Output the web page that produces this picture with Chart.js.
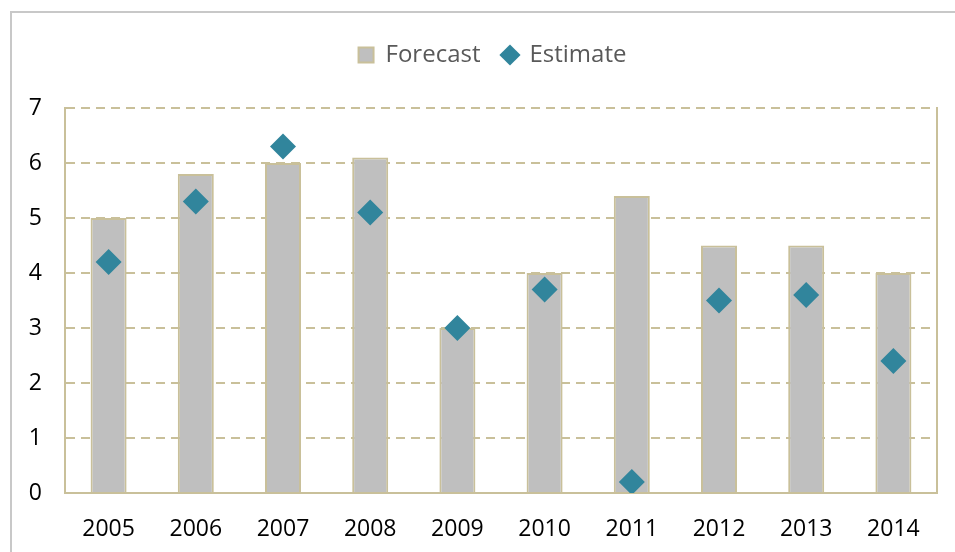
<!DOCTYPE html>
<html>
<head>
<meta charset="utf-8">
<script src="https://cdn.jsdelivr.net/npm/chart.js@4/dist/chart.umd.min.js"></script>
<style>
  html, body { margin: 0; padding: 0; background: #fff; }
  #wrap { position: relative; width: 955px; height: 552px; }
  #frame { position: absolute; left: 10px; top: 11px; right: -5px; bottom: -5px;
           border-left: 2px solid #c8c8c8; border-top: 2px solid #c8c8c8; pointer-events: none; }
</style>
</head>
<body>
<div id="wrap">
  <canvas id="chart" width="955" height="552"></canvas>
  <div id="frame"></div>
</div>
<script>
// chart values
var years = ['2005', '2006', '2007', '2008', '2009', '2010', '2011', '2012', '2013', '2014'];
var forecast = [5.0, 5.8, 6.0, 6.1, 3.0, 4.0, 5.4, 4.5, 4.5, 4.0];
var estimate = [4.2, 5.3, 6.3, 5.1, 3.0, 3.7, 0.2, 3.5, 3.6, 2.4];
var yTicks = [0, 1, 2, 3, 4, 5, 6, 7];

var tan = '#c9c09a';
var teal = '#31859c';
var grey = '#bfbfbf';
var font = "'Open Sans', 'Noto Sans', sans-serif";

// extra room under the legend, and nudge it over the plot area
var legendGap = {
    id: 'legendGap',
    beforeInit: function (chart) {
        var fit = chart.legend.fit;
        chart.legend.fit = function () {
            fit.call(this);
            this.height += 31;
        };
    },
    afterLayout: function (chart) {
        chart.legend.left += 18;
        chart.legend.right += 18;
    }
};

var ctx = document.getElementById('chart');
var myChart = new Chart(ctx, {
    type: 'bar',
    data: {
        labels: years,
        datasets: [
            {
                label: 'Forecast',
                data: forecast,
                backgroundColor: grey,
                borderColor: tan,
                borderWidth: 2,
                pointStyle: 'rect',
                barPercentage: 0.413,
                categoryPercentage: 1.0,
                order: 2
            },
            {
                type: 'line',
                label: 'Estimate',
                data: estimate,
                showLine: false,
                pointStyle: 'rectRot',
                pointRadius: 13,
                pointHoverRadius: 13,
                pointBackgroundColor: teal,
                pointBorderColor: teal,
                pointBorderWidth: 0,
                backgroundColor: teal,
                borderColor: teal,
                borderWidth: 0,
                order: 1
            }
        ]
    },
    plugins: [legendGap],
    options: {
        responsive: false,
        animation: false,
        layout: { padding: { top: 21, left: 12, right: 18, bottom: 0 } },
        plugins: {
            tooltip: { enabled: false },
            legend: {
                position: 'top',
                labels: {
                    usePointStyle: true,
                    boxWidth: 15,
                    boxHeight: 15,
                    padding: 22,
                    color: '#595959',
                    font: { family: font, size: 24 },
                    sort: function (a, b) { return a.datasetIndex - b.datasetIndex; }
                }
            }
        },
        scales: {
            x: {
                grid: { display: false },
                border: { display: true, color: tan, width: 2 },
                ticks: { color: '#000', padding: 15, font: { family: font, size: 23 } },
                afterFit: function (s) { s.height = 59; }
            },
            y: {
                min: 0,
                max: 7,
                afterBuildTicks: function (s) { s.ticks = yTicks.map(function (v) { return { value: v }; }); },
                grid: { color: tan, lineWidth: 2, drawTicks: false },
                border: { display: true, color: tan, width: 2, dash: [9, 6] },
                ticks: { color: '#000', padding: 23, font: { family: font, size: 23 } },
                afterFit: function (s) { s.width = 53; }
            },
            y2: {
                position: 'right',
                min: 0,
                max: 7,
                grid: { display: false, drawTicks: false },
                border: { display: true, color: tan, width: 2 },
                ticks: { display: false },
                afterFit: function (s) { s.width = 0; }
            }
        }
    }
});
</script>
</body>
</html>
